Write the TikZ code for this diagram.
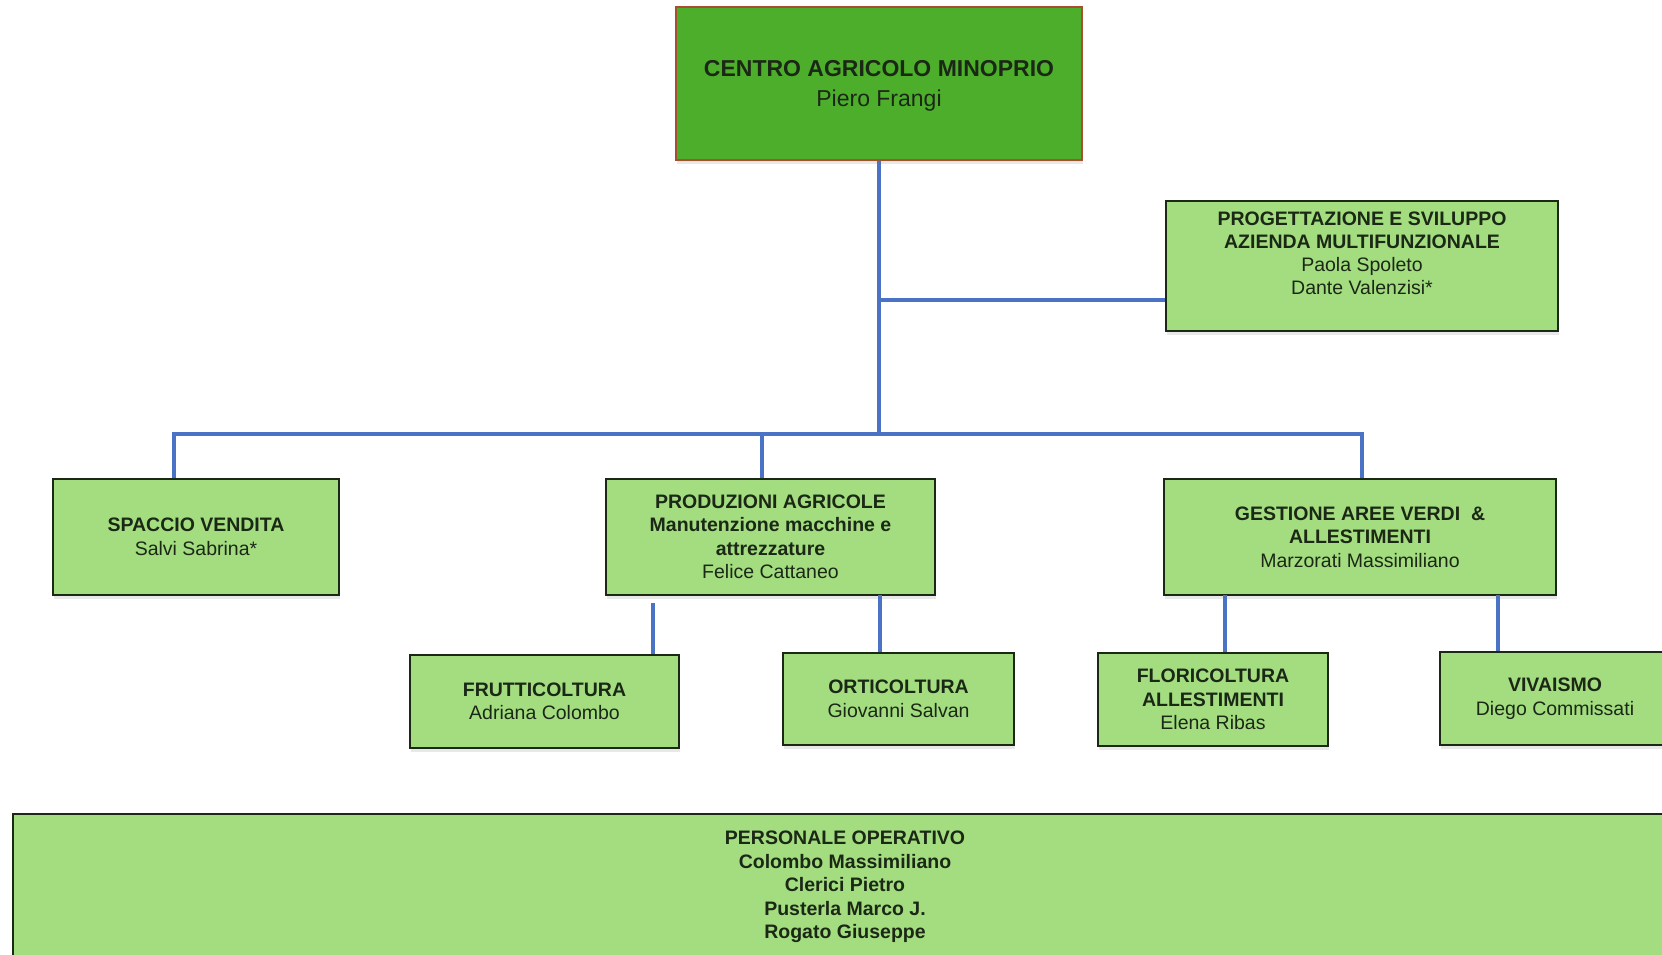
\documentclass[tikz,border=0pt]{standalone}
\usepackage{fontspec}
\setmainfont{Liberation Sans}
\usetikzlibrary{shadows}
\definecolor{colorOne}{HTML}{A3DD80}
\definecolor{colorTwo}{HTML}{4DAE2C}
\definecolor{colorThree}{HTML}{1B2816}
\definecolor{colorFour}{HTML}{4A73C6}
\definecolor{colorFive}{HTML}{A8502E}
\tikzset{
  unit box/.style={
    draw=colorThree,fill=colorOne,line width=2pt,text=colorThree,align=center,
    inner sep=0pt,font=\fontsize{19.5}{23.5}\selectfont,
    drop shadow={shadow xshift=1pt,shadow yshift=-4pt,opacity=0.18},
  },
  head box/.style={
    draw=colorFive,fill=colorTwo,line width=2pt,text=colorThree,align=center,
    inner sep=0pt,font=\fontsize{23}{30}\selectfont,
    drop shadow={shadow xshift=1pt,shadow yshift=-4pt,opacity=0.18},
  },
  link line/.style={draw=colorFour,line width=4pt},
}

\begin{document}
\begin{tikzpicture}[x=1pt,y=-1pt]
   \useasboundingbox (0,0) rectangle (1662,954);

   % NODES
   \node[head box,minimum width=406pt,minimum height=153pt,text depth=0pt] (c0) at (879,83.5)
     {\textbf{CENTRO AGRICOLO MINOPRIO}\\Piero Frangi}; % root
   \node[unit box,minimum width=392pt,minimum height=130pt,text depth=26pt,
     font=\fontsize{19.5}{23}\selectfont] (a0) at (1362,266)
     {\textbf{PROGETTAZIONE E SVILUPPO}\\\textbf{AZIENDA MULTIFUNZIONALE}\\Paola Spoleto\\Dante Valenzisi*}; % staff
   \node[unit box,minimum width=286pt,minimum height=116pt] (d0) at (196,537)
     {\textbf{SPACCIO VENDITA}\\Salvi Sabrina*};
   \node[unit box,minimum width=329pt,minimum height=116pt] (d1) at (770.5,537)
     {\textbf{PRODUZIONI AGRICOLE}\\\textbf{Manutenzione macchine e}\\\textbf{attrezzature}\\Felice Cattaneo};
   \node[unit box,minimum width=392pt,minimum height=116pt] (d2) at (1360,537)
     {\textbf{GESTIONE AREE VERDI\ \ \&}\\\textbf{ALLESTIMENTI}\\Marzorati Massimiliano};
   \node[unit box,minimum width=269pt,minimum height=93pt] (d10) at (544.5,701.5)
     {\textbf{FRUTTICOLTURA}\\Adriana Colombo};
   \node[unit box,minimum width=231pt,minimum height=92pt] (d11) at (898.5,699)
     {\textbf{ORTICOLTURA}\\Giovanni Salvan};
   \node[unit box,minimum width=230pt,minimum height=93pt] (d20) at (1213,699.5)
     {\textbf{FLORICOLTURA}\\\textbf{ALLESTIMENTI}\\Elena Ribas};
   \node[unit box,minimum width=230pt,minimum height=93pt] (d21) at (1555,698.5)
     {\textbf{VIVAISMO}\\Diego Commissati};
   \node[unit box,minimum width=1664pt,minimum height=148pt,text depth=6pt] (p0) at (845,888)
     {\textbf{PERSONALE OPERATIVO}\\\textbf{Colombo Massimiliano}\\\textbf{Clerici Pietro}\\\textbf{Pusterla Marco J.}\\\textbf{Rogato Giuseppe}}; % operativo

   % JOINTS
   \coordinate (j0) at (879,434);
   \coordinate (j1) at (879,300);
   \coordinate (j2) at (174,434);
   \coordinate (j3) at (762,434);
   \coordinate (j4) at (1362,434);
   \coordinate (k0) at (653,603);
   \coordinate (k1) at (880,595);
   \coordinate (k2) at (1225,595);
   \coordinate (k3) at (1498,595);

   % DRAW LINKS
   \path[link line] (c0.south)--(j0);
   \path[link line] (j1)--(j1 -| a0.west);
   \path[link line] (j2 |- d0.north)--(j2)--(j4)--(j4 |- d2.north);
   \path[link line] (j3)--(j3 |- d1.north);
   \path[link line] (k0)--(k0 |- d10.north);
   \path[link line] (k1)--(k1 |- d11.north);
   \path[link line] (k2)--(k2 |- d20.north);
   \path[link line] (k3)--(k3 |- d21.north);

\end{tikzpicture}
\end{document}
